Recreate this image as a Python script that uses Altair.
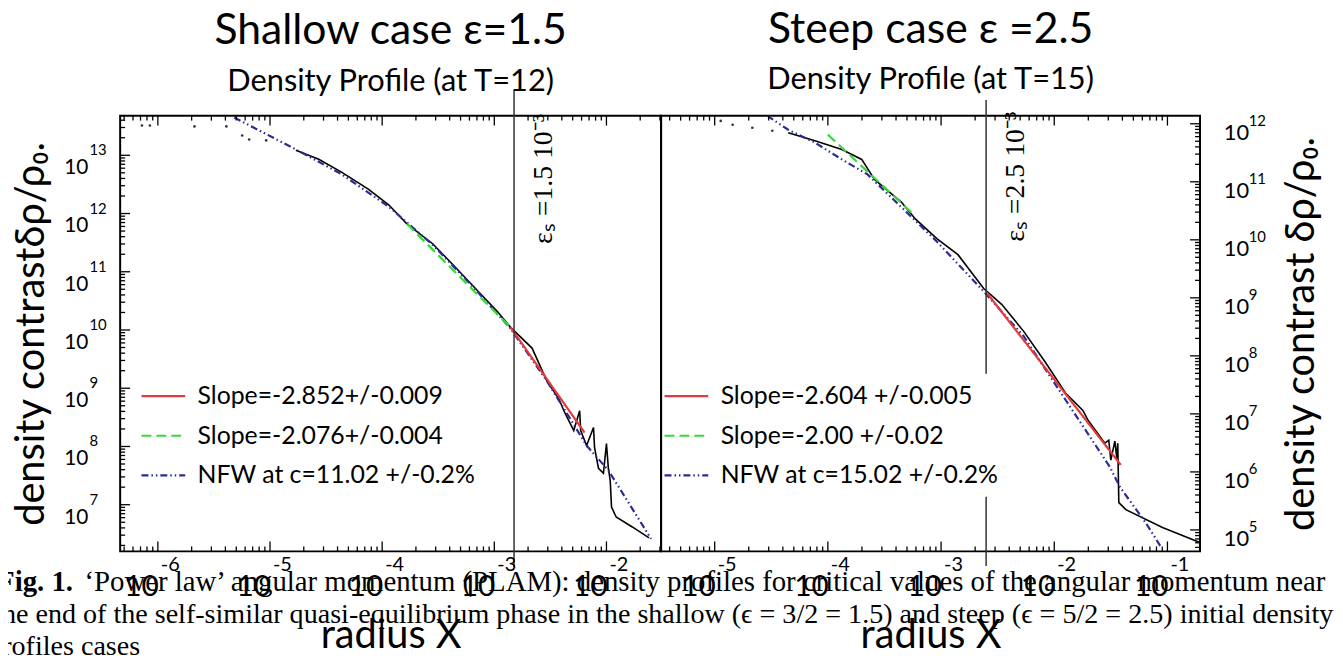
import altair as alt
import pandas as pd

FONT = "Lato"
SERIF = "Liberation Serif"

# ---------------- left panel : shallow case ----------------
L_TITLE = "Shallow case ε=1.5"
L_SUB = "Density Profile (at T=12)"
L_YTITLE = "density contrastδρ/ρ₀."
L_XDOM = [4.61e-7, 3.07e-2]
L_YDOM = [1.58e6, 4.79e13]
L_SIM_X = [1.70e-5, 2.72e-5, 4.34e-5, 7.52e-5, 1.15e-4, 1.66e-4, 2.82e-4, 4.43e-4, 6.79e-4,
           1.06e-3, 1.39e-3, 2.17e-3, 2.94e-3, 3.76e-3, 4.25e-3, 5.11e-3, 5.77e-3, 5.89e-3,
           6.65e-3, 7.67e-3, 7.83e-3, 8.49e-3, 9.40e-3, 1.00e-2, 1.04e-2, 1.08e-2, 1.11e-2,
           1.22e-2, 1.70e-2, 2.40e-2]
L_SIM_Y = [1.22e13, 8.55e12, 5.13e12, 2.63e12, 1.40e12, 6.65e11, 3.03e11, 1.23e11, 5.16e10,
           2.09e10, 1.12e10, 4.89e9, 1.34e9, 6.59e8, 3.80e8, 1.88e8, 4.11e8, 1.88e8,
           1.04e8, 2.11e8, 9.62e7, 4.22e7, 3.46e7, 1.12e8, 4.22e7, 2.63e7, 9.10e6,
           6.14e6, 4.15e6, 2.69e6]
L_DOT_X = [7.21e-7, 8.49e-7, 2.12e-6, 4.08e-6, 5.65e-6, 6.52e-6, 9.23e-6]
L_DOT_Y = [3.25e13, 3.25e13, 3.13e13, 3.13e13, 2.19e13, 1.87e13, 1.80e13]
L_NFW_X = [4.80e-6, 8.00e-6, 1.70e-5, 4.34e-5, 1.15e-4, 2.82e-4, 6.79e-4, 1.39e-3, 2.94e-3,
           6.65e-3, 1.04e-2, 2.50e-2]
L_NFW_Y = [4.45e13, 2.67e13, 1.26e13, 4.74e12, 1.30e12, 2.91e11, 4.97e10, 1.07e10, 1.34e9,
           1.04e8, 3.89e7, 2.59e6]
L_GREEN_X = [1.66e-4, 1.39e-3]
L_GREEN_Y = [6.65e11, 1.12e10]
L_RED_X = [1.39e-3, 6.38e-3]
L_RED_Y = [1.12e10, 1.73e8]
L_LABELS = ["Slope=-2.852+/-0.009", "Slope=-2.076+/-0.004", "NFW at c=11.02  +/-0.2%"]
L_EPS = 1.5e-3
L_RULE_Y1 = [1.34e14]
L_RULE_Y2 = [8.61e5]
L_EPS_TEXT = "εₛ =1.5 10⁻³"
L_EPS_TEXT_Y = 3.0e11
L_XEXP = [-6, -5, -4, -3, -2]
L_YEXP = [7, 8, 9, 10, 11, 12, 13]

# ---------------- right panel : steep case ----------------
R_TITLE = "Steep case ε =2.5"
R_SUB = "Density Profile (at T=15)"
R_YTITLE = "density contrast δρ/ρ₀."
R_XDOM = [3.36e-6, 0.194]
R_YDOM = [4.27e4, 1.38e12]
R_SIM_X = [4.46e-5, 7.69e-5, 1.33e-4, 1.99e-4, 2.58e-4, 3.50e-4, 4.46e-4, 5.92e-4, 9.23e-4,
           1.41e-3, 2.38e-3, 3.43e-3, 5.35e-3, 8.17e-3, 1.27e-2, 1.79e-2, 1.99e-2, 2.80e-2,
           3.03e-2, 3.16e-2, 3.43e-2, 3.57e-2, 3.64e-2, 3.72e-2, 4.29e-2, 9.04e-2, 1.91e-1]
R_SIM_Y = [7.01e11, 5.12e11, 3.60e11, 2.43e11, 1.10e11, 6.62e10, 4.47e10, 2.29e10, 1.04e10,
           5.55e9, 1.45e9, 7.74e8, 2.67e8, 8.22e7, 2.24e7, 1.15e7, 7.74e6, 3.13e6,
           3.52e6, 1.60e6, 3.39e6, 1.73e6, 3.13e6, 2.95e5, 2.24e5, 1.10e5, 6.11e4]
R_DOT_X = [1.13e-5, 1.44e-5, 2.15e-5, 3.23e-5]
R_DOT_Y = [1.12e12, 9.62e11, 8.55e11, 7.59e11]
R_NFW_X = [2.92e-5, 4.46e-5, 7.69e-5, 1.33e-4, 2.24e-4, 4.46e-4, 9.23e-4, 2.38e-3, 5.35e-3,
           1.27e-2, 3.10e-2, 3.79e-2, 6.41e-2, 8.69e-2]
R_NFW_Y = [1.37e12, 7.89e11, 4.73e11, 2.43e11, 1.34e11, 3.66e10, 9.25e9, 1.29e9, 2.20e8,
           1.70e7, 1.22e6, 5.55e5, 1.34e5, 5.22e4]
R_GREEN_X = [1.00e-4, 5.79e-4]
R_GREEN_Y = [6.49e11, 2.67e10]
R_RED_X = [2.48e-3, 3.87e-2]
R_RED_Y = [1.29e9, 1.32e6]
R_LABELS = ["Slope=-2.604 +/-0.005", "Slope=-2.00 +/-0.02", "NFW at c=15.02  +/-0.2%"]
R_EPS = 2.5e-3
R_RULE_Y1 = [2.57e12, 3.74e5]
R_RULE_Y2 = [4.92e7, 2.38e4]
R_EPS_TEXT = "εₛ =2.5 10⁻³"
R_EPS_TEXT_Y = 9.25e9
R_XEXP = [-5, -4, -3, -2, -1]
R_YEXP = [5, 6, 7, 8, 9, 10, 11, 12]

CAPTION_BOLD = "Fig. 1."
CAPTION_1 = "‘Power law’ angular momentum (PLAM): density profiles for critical values of the angular momentum near"
CAPTION_2 = "the end of the self-similar quasi-equilibrium phase in the shallow (ϵ = 3/2 = 1.5) and steep (ϵ = 5/2 = 2.5) initial density"
CAPTION_3 = "profiles cases"

FIT_COLORS = ["#e23b3b", "#3ad83a", "#2b2b94"]
FIT_DASHES = [[1, 0], [10, 5], [7, 3, 1.5, 3, 1.5, 3]]

H = 439


def log_ticks(lo, hi):
    major, minor = [], []
    for d in range(-9, 16):
        for k in range(1, 10):
            v = float(f"{k}e{d}")
            if lo <= v <= hi:
                (major if k == 1 else minor).append(v)
    return major, minor


def make_panel(p):
    W = p["width"]
    xsc = alt.Scale(type="log", domain=p["xdom"], nice=False)
    ysc = alt.Scale(type="log", domain=p["ydom"], nice=False)
    xaxis = alt.Axis(title="radius X", labels=False, ticks=False, domain=False, grid=False,
                     titleFont=FONT, titleFontSize=40, titleFontWeight="normal",
                     titleColor="black", titleBaseline="alphabetic", titlePadding=97)
    yaxis = alt.Axis(orient=p["yorient"], title=p["ytitle"], labels=False, ticks=False,
                     domain=False, grid=False, titleFont=FONT, titleFontSize=40,
                     titleFontWeight="normal", titleColor="black", titleAngle=270,
                     titleBaseline="alphabetic", titlePadding=p["ytpad"])

    def X(f):
        return alt.X(f, type="quantitative", scale=xsc, axis=xaxis)

    def Y(f):
        return alt.Y(f, type="quantitative", scale=ysc, axis=yaxis)

    sim_df = pd.DataFrame({"x": p["simx"], "y": p["simy"], "i": range(len(p["simx"]))})
    sim = alt.Chart(sim_df).mark_line(color="black", strokeWidth=1.6).encode(
        x=X("x"), y=Y("y"), order="i:Q")

    dots = alt.Chart(pd.DataFrame({"x": p["dotx"], "y": p["doty"]})).mark_circle(
        size=7, color="black", opacity=0.8).encode(x=X("x"), y=Y("y"))

    labels = p["labels"]
    fit_rows = []
    for lab, xs, ys in [(labels[2], p["nfwx"], p["nfwy"]),
                        (labels[1], p["gx"], p["gy"]),
                        (labels[0], p["rx"], p["ry"])]:
        for i, (a, b) in enumerate(zip(xs, ys)):
            fit_rows.append({"series": lab, "x": a, "y": b, "i": i})
    fit_df = pd.DataFrame(fit_rows)
    leg = alt.Legend(orient="none", legendX=p["legx"], legendY=259, title=None,
                     labelFont=FONT, labelFontSize=25, labelColor="black",
                     symbolType="stroke", symbolSize=1936, symbolStrokeWidth=2.2,
                     labelOffset=11, rowPadding=3, padding=0, labelLimit=500)
    fits = alt.Chart(fit_df).mark_line(strokeWidth=2.2).encode(
        x=X("x"), y=Y("y"),
        color=alt.Color("series:N", scale=alt.Scale(domain=labels, range=FIT_COLORS), legend=leg),
        strokeDash=alt.StrokeDash("series:N", scale=alt.Scale(domain=labels, range=FIT_DASHES),
                                  legend=leg),
        order="i:Q",
    )

    rule_df = pd.DataFrame({"x": [p["eps"]] * len(p["ry1"]), "y1": p["ry1"], "y2": p["ry2"]})
    rule = alt.Chart(rule_df).mark_rule(color="#333333", strokeWidth=1.5).encode(
        x=X("x"), y=Y("y1"), y2="y2")

    eps_df = pd.DataFrame({"x": [p["eps"]], "y": [p["epsy"]], "t": [p["epst"]]})
    eps = alt.Chart(eps_df).mark_text(angle=270, align="left", baseline="alphabetic",
                                      font=SERIF, fontSize=28, dy=38, color="black").encode(
        x=X("x"), y=Y("y"), text="t:N")

    xmaj, xmin = log_ticks(*p["xdom"])
    ymaj, ymin = log_ticks(*p["ydom"])
    tick_layers = []
    for vals, ln in [(xmaj, 10), (xmin, 5)]:
        d = pd.DataFrame({"v": vals})
        tick_layers.append(alt.Chart(d).mark_rule(color="black", strokeWidth=1.3).encode(
            x=X("v"), y=alt.value(H), y2=alt.value(H - ln)))
        tick_layers.append(alt.Chart(d).mark_rule(color="black", strokeWidth=1.3).encode(
            x=X("v"), y=alt.value(0), y2=alt.value(ln)))
    for vals, ln in [(ymaj, 10), (ymin, 5)]:
        d = pd.DataFrame({"v": vals})
        if p["yorient"] == "left":
            tick_layers.append(alt.Chart(d).mark_rule(color="black", strokeWidth=1.3).encode(
                y=Y("v"), x=alt.value(0), x2=alt.value(ln)))
        else:
            tick_layers.append(alt.Chart(d).mark_rule(color="black", strokeWidth=1.3).encode(
                y=Y("v"), x=alt.value(W), x2=alt.value(W - ln)))

    xl = pd.DataFrame({"v": [float(f"1e{e}") for e in p["xexp"]], "e": [str(e) for e in p["xexp"]]})
    yl = pd.DataFrame({"v": [float(f"1e{e}") for e in p["yexp"]], "e": [str(e) for e in p["yexp"]]})
    lab_layers = [
        alt.Chart(xl).mark_text(text="10", align="right", baseline="alphabetic", font=FONT,
                                fontSize=30, dx=1, color="black").encode(
            x=X("v"), y=alt.value(H + 45)),
        alt.Chart(xl).mark_text(align="left", baseline="alphabetic", font=FONT, fontSize=20,
                                dx=3, color="black").encode(
            x=X("v"), y=alt.value(H + 20), text="e:N"),
    ]
    if p["yorient"] == "left":
        lab_layers += [
            alt.Chart(yl).mark_text(text="10", align="right", baseline="alphabetic", font=FONT,
                                    fontSize=21, dy=19, color="black").encode(
                x=alt.value(-32), y=Y("v")),
            alt.Chart(yl).mark_text(align="left", baseline="alphabetic", font=FONT, fontSize=15,
                                    dy=0, color="black").encode(
                x=alt.value(-31), y=Y("v"), text="e:N"),
        ]
    else:
        lab_layers += [
            alt.Chart(yl).mark_text(text="10", align="left", baseline="alphabetic", font=FONT,
                                    fontSize=22, dy=16, color="black").encode(
                x=alt.value(W + 24), y=Y("v")),
            alt.Chart(yl).mark_text(align="left", baseline="alphabetic", font=FONT, fontSize=15,
                                    dy=2, color="black").encode(
                x=alt.value(W + 49), y=Y("v"), text="e:N"),
        ]

    layers = [sim, dots, fits, rule, eps] + tick_layers + lab_layers
    if p.get("caption"):
        one = pd.DataFrame({"k": [0]})
        cap = dict(align="left", baseline="alphabetic", font=SERIF, color="black")
        layers += [
            alt.Chart(one).mark_text(text=CAPTION_BOLD, fontWeight="bold", fontSize=29, **cap).encode(
                x=alt.value(-124), y=alt.value(479)),
            alt.Chart(one).mark_text(text=CAPTION_1, fontSize=29, **cap).encode(
                x=alt.value(-36), y=alt.value(479)),
            alt.Chart(one).mark_text(text=CAPTION_2, fontSize=28.3, **cap).encode(
                x=alt.value(-127), y=alt.value(511)),
            alt.Chart(one).mark_text(text=CAPTION_3, fontSize=28.3, **cap).encode(
                x=alt.value(-133), y=alt.value(543)),
        ]

    title = alt.TitleParams(text=p["title"], subtitle=p["sub"], font=FONT, fontSize=43,
                            fontWeight="normal", color="black", subtitleFont=FONT,
                            subtitleFontSize=31, subtitleColor="black", anchor="middle",
                            offset=p["toff"], subtitlePadding=14)
    return alt.layer(*layers).properties(width=W, height=H, title=title)


left = make_panel(dict(width=545, xdom=L_XDOM, ydom=L_YDOM, simx=L_SIM_X, simy=L_SIM_Y,
                       dotx=L_DOT_X, doty=L_DOT_Y, nfwx=L_NFW_X, nfwy=L_NFW_Y,
                       gx=L_GREEN_X, gy=L_GREEN_Y, rx=L_RED_X, ry=L_RED_Y, labels=L_LABELS,
                       eps=L_EPS, ry1=L_RULE_Y1, ry2=L_RULE_Y2, epst=L_EPS_TEXT, epsy=L_EPS_TEXT_Y,
                       xexp=L_XEXP, yexp=L_YEXP, yorient="left", ytitle=L_YTITLE, ytpad=77,
                       legx=20, title=L_TITLE, sub=L_SUB, toff=-8, caption=True))
right = make_panel(dict(width=543, xdom=R_XDOM, ydom=R_YDOM, simx=R_SIM_X, simy=R_SIM_Y,
                        dotx=R_DOT_X, doty=R_DOT_Y, nfwx=R_NFW_X, nfwy=R_NFW_Y,
                        gx=R_GREEN_X, gy=R_GREEN_Y, rx=R_RED_X, ry=R_RED_Y, labels=R_LABELS,
                        eps=R_EPS, ry1=R_RULE_Y1, ry2=R_RULE_Y2, epst=R_EPS_TEXT, epsy=R_EPS_TEXT_Y,
                        xexp=R_XEXP, yexp=R_YEXP, yorient="right", ytitle=R_YTITLE, ytpad=114,
                        legx=2, title=R_TITLE, sub=R_SUB, toff=4, caption=False))

chart = alt.hconcat(left, right, spacing=0, bounds="flush").resolve_scale(
    x="independent", y="independent", color="independent", strokeDash="independent"
).resolve_legend(color="independent", strokeDash="independent").configure_view(
    stroke="black", strokeWidth=2
).properties(padding={"left": -21, "top": -3, "right": 0, "bottom": 0})

chart.save("out.html", embed_options={"renderer": "svg", "actions": False})
